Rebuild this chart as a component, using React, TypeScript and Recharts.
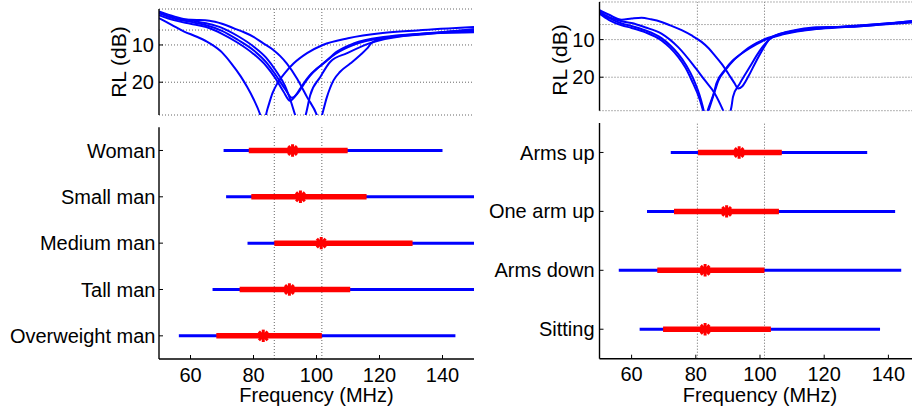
import React from "react";
import {
  CartesianGrid,
  ComposedChart,
  Line,
  ReferenceLine,
  Scatter,
  XAxis,
  YAxis,
} from "recharts";

const FONT = '"Liberation Sans", Arial, Helvetica, sans-serif';
const BLUE = "#0000ff";
const RED = "#ff0000";
const DOTTED = "#666666";
const FS = 20;

// shared axes
const freqDomain = [50, 150];
const freqTicks = [60, 80, 100, 120, 140];
const rlTicks = [10, 20];
const rlThreshold = 6;

// left column: body types
const bodyLabels = ["Woman", "Small man", "Medium man", "Tall man", "Overweight man"];
const bodyOuterLo = [70.5, 71.3, 78.1, 67, 56.3];
const bodyOuterHi = [140, 150, 150, 150, 144.1];
const bodyInnerLo = [78.5, 79.3, 86.6, 75.6, 68.2];
const bodyInnerHi = [109.9, 115.9, 130.5, 110.7, 101.7];
const bodyCenter = [92.4, 94.9, 101.5, 91.4, 83.1];
const bodyRefs = [86.6, 101.7];

// RL curves, [frequency MHz, RL dB]
const womanRL = [[50,1.5],[55,3.0],[60,3.8],[65,4.7],[70,6.2],[75,8.6],[80,11.4],[84,14.6],[87,18],[90,21.8],[92.2,24.2],[94,23],[96,20.5],[98,18.2],[101,15.8],[106,12.4],[112,9.9],[122,8.0],[133,7.2],[150,5.7]];
const smallManRL = [[50,1.0],[55,2.4],[60,3.4],[65,4.2],[70,5.4],[75,7.6],[80,10.4],[84,13.4],[87,16.8],[90,21],[92,25.5],[93.3,29],[94.9,32],[96.5,29],[98,23.5],[101.2,18.6],[104.4,14.5],[109.7,12.2],[117,9.5],[127.6,7.6],[150,6.4]];
const mediumManRL = [[50,1.4],[54,2.5],[58,3.2],[62,3.3],[66,3.5],[70,4.3],[74,5.6],[77,6.6],[80,7.8],[83,9.5],[86.4,11.4],[88.5,13],[90.6,15],[93.8,19],[97,24],[100.2,29],[101,31],[101.7,29],[103.3,24],[105.4,19.5],[107.5,17.2],[110.7,15],[113.9,12.7],[116,11],[117.5,9.5],[121.3,8.2],[131.9,7.1],[150,6.6]];
const tallManRL = [[50,2.0],[55,3.4],[60,4.3],[65,5.2],[70,7.0],[75,9.4],[80,12.4],[84,15.6],[87,19],[89.5,22.5],[91.6,25],[93,24],[95,21.5],[97,19],[100,16.4],[102.2,15],[106.5,11.8],[111.8,9.6],[122,7.8],[133,7.0],[150,6.0]];
const overweightRL = [[50,2.8],[54,4.6],[58,6.4],[62,7.8],[66,9.5],[70,12],[73,15],[76,18.5],[78,21.3],[80,24.5],[82,28.4],[83,31],[84.5,27],[86,23],[87.5,20.4],[90,17.5],[92.7,15],[97,12.2],[102,10],[110,8.2],[121,6.8],[132,6.1],[150,5.2]];

// right column: postures
const postureLabels = ["Arms up", "One arm up", "Arms down", "Sitting"];
const postureOuterLo = [72.2, 64.8, 56, 62.5];
const postureOuterHi = [133.4, 142.1, 144, 137.4];
const postureInnerLo = [80.7, 73.2, 68, 69.8];
const postureInnerHi = [106.8, 105.9, 101.4, 103.4];
const postureCenter = [93.5, 89.6, 82.9, 82.9];
const postureRefs = [80.5, 101.4];

const armsUpRL = [[50,2.2],[53,3.4],[56.9,4.7],[60,4.4],[63.1,4.2],[66,4.6],[69.3,5.3],[72,6.2],[75.6,7.5],[78.7,8.9],[81.8,10.6],[84,12.3],[85.9,14.2],[88,16.4],[90.1,19],[92,21.5],[93.2,23],[94.5,22.4],[96.3,19.9],[98.4,16.4],[101,12.4],[103,9.8],[105,8.8],[108.2,8],[112,7.3],[117.6,6.7],[127.9,6.6],[138.3,5.9],[147.2,5.1],[150,4.9]];
const oneArmUpRL = [[50,2.6],[53,4.0],[56.9,5.1],[60,5.6],[64.1,6.7],[69.3,8.4],[74.5,12],[79.7,17.3],[82.8,20.8],[85.9,24.3],[88.5,28.8],[89.6,31],[91.1,27.9],[91.6,25.2],[93.7,21.7],[96.8,17.3],[99.9,13],[103,9.9],[105,8.9],[108.2,8.1],[117.6,6.9],[127.9,6.5],[138.3,5.8],[150,4.8]];
const armsDownRL = [[50,3.1],[53,4.8],[56.9,6.2],[60,6.9],[64.1,8],[69.3,10.2],[72,12.2],[74.5,14.6],[76.8,17.5],[78.7,20.8],[81.3,26.1],[82.3,29],[82.9,31],[83.8,28.6],[85.9,23.4],[86.4,21.7],[89,18.1],[91.6,15.5],[93.2,14.4],[96.8,12],[99,10.9],[102,9.7],[107.2,8.4],[117.6,7.1],[127.9,6.4],[138.3,5.8],[150,5.1]];
const sittingRL = [[50,2.8],[53,4.3],[56.9,5.7],[60,6.4],[64.1,7.5],[69.3,9.6],[72,11.5],[74.5,13.8],[77,16.8],[79.2,20.4],[81.6,26],[82.5,29],[83,31],[84,28.8],[86,23.5],[87,21],[89.5,17.8],[92,15.3],[96.8,12.3],[102,9.9],[107.2,8.6],[117.6,7.2],[127.9,6.6],[138.3,6],[150,5.3]];

const toPts = (c: number[][]) => c.map(([f, rl]) => ({ f, rl }));

// horizontal segments, one per row, separated by a null point
const segments = (lo: number[], hi: number[]) => {
  const n = lo.length;
  return lo.flatMap((l, i) => [
    { f: l, y: n - 0.5 - i },
    { f: hi[i], y: n - 0.5 - i },
    { f: hi[i], y: null },
  ]);
};

const NoTick = () => <g />;

const Asterisk = (props: any) => {
  const { cx, cy } = props;
  const r = 6.2;
  const d = r * Math.SQRT1_2;
  return (
    <g stroke={RED} strokeWidth={3}>
      <line x1={cx - r} y1={cy} x2={cx + r} y2={cy} />
      <line x1={cx} y1={cy - r} x2={cx} y2={cy + r} />
      <line x1={cx - d} y1={cy - d} x2={cx + d} y2={cy + d} />
      <line x1={cx - d} y1={cy + d} x2={cx + d} y2={cy - d} />
    </g>
  );
};

const axisLine = { stroke: "#000", strokeWidth: 1.4 };
const tickLine = { stroke: "#000" };
const tickText = { fill: "#000", fontSize: FS, fontFamily: FONT };

function RLChart(props: any) {
  const { curves, refs, left, top, yAxisW, plotW, plotH, marginTop, domain, labelX, labelY } = props;
  return (
    <div style={{ position: "absolute", left, top }}>
      <ComposedChart
        width={yAxisW + plotW + 10}
        height={marginTop + plotH + 6}
        margin={{ top: marginTop, right: 10, bottom: 6, left: 0 }}
      >
        <CartesianGrid vertical={false} stroke={DOTTED} strokeDasharray="1 2" />
        <XAxis dataKey="f" type="number" domain={freqDomain} allowDataOverflow ticks={[100]}
          height={0} tick={NoTick} tickSize={-4} axisLine={axisLine} tickLine={tickLine} />
        <XAxis xAxisId="top" orientation="top" type="number" domain={freqDomain} allowDataOverflow
          ticks={[100]} height={0} tick={NoTick} tickSize={-4} axisLine={axisLine} tickLine={tickLine} />
        <YAxis type="number" reversed domain={domain} allowDataOverflow ticks={rlTicks} interval={0}
          width={yAxisW} tickSize={-4} tickMargin={9} tick={tickText} axisLine={axisLine} tickLine={tickLine}
          label={{
            content: () => (
              <text x={labelX} y={labelY} transform={`rotate(-90 ${labelX} ${labelY})`} textAnchor="middle"
                dominantBaseline="central" fontSize={FS + 1} fontFamily={FONT} fill="#000">
                RL (dB)
              </text>
            ),
          }} />
        <YAxis yAxisId="right" orientation="right" type="number" reversed domain={domain} allowDataOverflow
          ticks={rlTicks} width={0} tick={NoTick} tickSize={-4} axisLine={axisLine} tickLine={tickLine} />
        <ReferenceLine y={rlThreshold} stroke={DOTTED} strokeDasharray="1 2" />
        {refs.map((r: number) => (
          <ReferenceLine key={r} x={r} stroke={DOTTED} strokeDasharray="1 2" />
        ))}
        {curves.map((c: number[][], i: number) => (
          <Line key={i} data={toPts(c)} dataKey="rl" type="monotone" stroke={BLUE} strokeWidth={2}
            dot={false} activeDot={false} isAnimationActive={false} />
        ))}
      </ComposedChart>
    </div>
  );
}

function RangeChart(props: any) {
  const { labels, outerLo, outerHi, innerLo, innerHi, center, refs, left, top, yAxisW, plotW, plotH, marginTop, labelGap } = props;
  const n = labels.length;
  const rowTicks = labels.map((_: string, i: number) => n - 0.5 - i);
  const stars = center.map((c: number, i: number) => ({ f: c, y: n - 0.5 - i }));
  return (
    <div style={{ position: "absolute", left, top }}>
      <ComposedChart
        width={yAxisW + plotW + 10}
        height={marginTop + plotH + 51}
        margin={{ top: marginTop, right: 10, bottom: 0, left: 0 }}
      >
        <XAxis dataKey="f" type="number" domain={freqDomain} allowDataOverflow ticks={freqTicks} interval={0}
          height={51} tickSize={-4} tickMargin={12.5} tick={tickText} axisLine={axisLine} tickLine={tickLine}
          label={{
            content: (p: any) => {
              const vb = p.viewBox || {};
              return (
                <text x={vb.x + vb.width / 2} y={vb.y + 36} textAnchor="middle" dominantBaseline="central"
                  fontSize={FS} fontFamily={FONT} fill="#000">
                  Frequency (MHz)
                </text>
              );
            },
          }} />
        <XAxis xAxisId="top" orientation="top" type="number" domain={freqDomain} allowDataOverflow
          ticks={freqTicks} height={0} tick={NoTick} tickSize={-4} axisLine={axisLine} tickLine={tickLine} />
        <YAxis dataKey="y" type="number" domain={[0, n]} allowDataOverflow ticks={rowTicks} interval={0}
          width={yAxisW} tickSize={-4} tickMargin={labelGap + 4} tick={tickText} axisLine={axisLine} tickLine={tickLine}
          tickFormatter={(v: number) => labels[Math.round(n - 0.5 - v)]} />
        <YAxis yAxisId="right" orientation="right" type="number" domain={[0, n]} allowDataOverflow
          ticks={rowTicks} width={0} tick={NoTick} tickSize={-4} axisLine={axisLine} tickLine={tickLine} />
        {refs.map((r: number) => (
          <ReferenceLine key={r} x={r} stroke={DOTTED} strokeDasharray="1 2" />
        ))}
        <Line data={segments(outerLo, outerHi)} dataKey="y" stroke={BLUE} strokeWidth={3}
          dot={false} activeDot={false} isAnimationActive={false} />
        <Line data={segments(innerLo, innerHi)} dataKey="y" stroke={RED} strokeWidth={5.5}
          dot={false} activeDot={false} isAnimationActive={false} />
        <Scatter data={stars} dataKey="y" shape={Asterisk} isAnimationActive={false} />
      </ComposedChart>
    </div>
  );
}

export default function App() {
  return (
    <div style={{ position: "fixed", left: 0, top: 0, width: 912, height: 410, overflow: "hidden", background: "#fff" }}>
      <RLChart
        curves={[womanRL, smallManRL, mediumManRL, tallManRL, overweightRL]}
        refs={bodyRefs}
        left={0} top={0} yAxisW={159} plotW={315} plotH={106} marginTop={9}
        domain={[0.35, 28.8]} labelX={118} labelY={62}
      />
      <RangeChart
        labels={bodyLabels} outerLo={bodyOuterLo} outerHi={bodyOuterHi}
        innerLo={bodyInnerLo} innerHi={bodyInnerHi} center={bodyCenter} refs={bodyRefs}
        left={0} top={120} yAxisW={159} plotW={315} plotH={231.7} marginTop={7.3} labelGap={3.5}
      />
      <RLChart
        curves={[armsUpRL, oneArmUpRL, armsDownRL, sittingRL]}
        refs={postureRefs}
        left={480} top={0} yAxisW={119.5} plotW={321} plotH={108.7} marginTop={2}
        domain={[0, 28.9]} labelX={79} labelY={60}
      />
      <RangeChart
        labels={postureLabels} outerLo={postureOuterLo} outerHi={postureOuterHi}
        innerLo={postureInnerLo} innerHi={postureInnerHi} center={postureCenter} refs={postureRefs}
        left={480} top={118} yAxisW={119.5} plotW={321} plotH={235.7} marginTop={5} labelGap={5}
      />
    </div>
  );
}
